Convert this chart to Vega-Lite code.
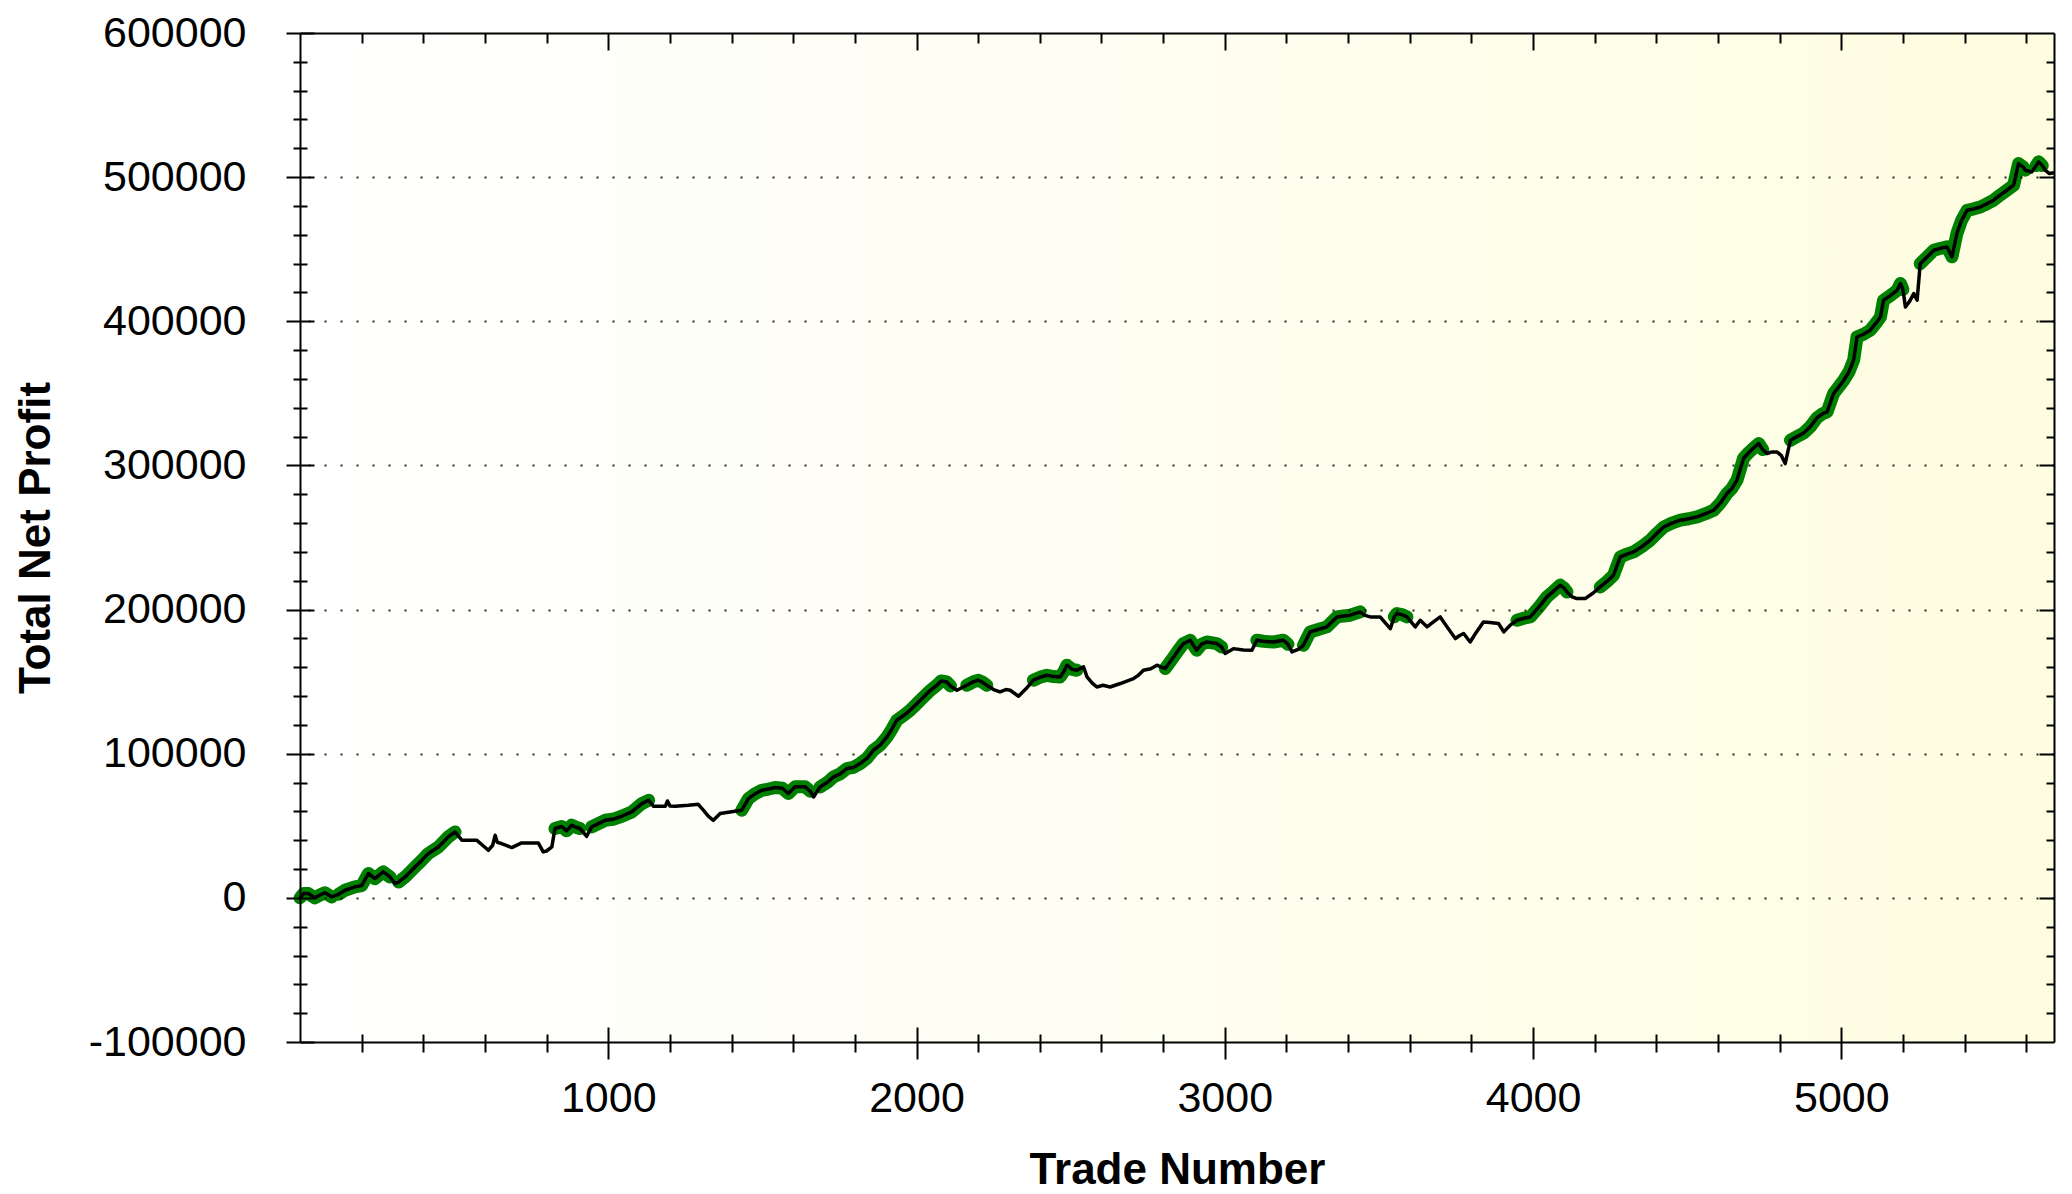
{
  "$schema": "https://vega.github.io/schema/vega-lite/v6.json",
  "width": 1754,
  "height": 1009,
  "autosize": "none",
  "padding": {"left": 300, "top": 33, "right": 18, "bottom": 152},
  "background": "#ffffff",
  "config": {
    "view": {"stroke": null},
    "font": "Liberation Sans",
    "axis": {"tickColor": "#000000", "tickWidth": 2, "domainColor": "#000000", "domainWidth": 2, "grid": false, "title": null, "labelColor": "#000000", "titleColor": "#000000", "labelFont": "Liberation Sans", "titleFont": "Liberation Sans"}
  },
  "data": {
    "values": [
      {"trade": 0, "profit": 0, "seg": 1}, {"trade": 12, "profit": 3000, "seg": 1}, {"trade": 27, "profit": 3000, "seg": 1}, {"trade": 48, "profit": 0, "seg": 1}, {"trade": 65, "profit": 2000, "seg": 1}, {"trade": 81, "profit": 3500, "seg": 1}, {"trade": 103, "profit": 600, "seg": 1},
      {"trade": 125, "profit": 2500, "seg": 2}, {"trade": 146, "profit": 5300, "seg": 2}, {"trade": 178, "profit": 7600, "seg": 2}, {"trade": 200, "profit": 8500, "seg": 2}, {"trade": 222, "profit": 16900, "seg": 2}, {"trade": 243, "profit": 13400, "seg": 2}, {"trade": 270, "profit": 18000, "seg": 2}, {"trade": 292, "profit": 14500, "seg": 2},
      {"trade": 308, "profit": 9900, "seg": 0},
      {"trade": 320, "profit": 11000, "seg": 3}, {"trade": 341, "profit": 14500, "seg": 3}, {"trade": 373, "profit": 21400, "seg": 3}, {"trade": 395, "profit": 26000, "seg": 3}, {"trade": 416, "profit": 30700, "seg": 3}, {"trade": 449, "profit": 35300, "seg": 3}, {"trade": 481, "profit": 42300, "seg": 3}, {"trade": 503, "profit": 45700, "seg": 3},
      {"trade": 525, "profit": 40000, "seg": 0}, {"trade": 573, "profit": 40000, "seg": 0}, {"trade": 595, "profit": 36000, "seg": 0}, {"trade": 611, "profit": 33000, "seg": 0}, {"trade": 625, "profit": 36500, "seg": 0}, {"trade": 633, "profit": 43400, "seg": 0}, {"trade": 640, "profit": 38500, "seg": 0}, {"trade": 654, "profit": 37700, "seg": 0}, {"trade": 687, "profit": 34900, "seg": 0}, {"trade": 719, "profit": 38100, "seg": 0}, {"trade": 773, "profit": 38100, "seg": 0}, {"trade": 789, "profit": 31900, "seg": 0}, {"trade": 800, "profit": 32500, "seg": 0}, {"trade": 817, "profit": 35300, "seg": 0},
      {"trade": 827, "profit": 48100, "seg": 4}, {"trade": 849, "profit": 49500, "seg": 4}, {"trade": 865, "profit": 46500, "seg": 4}, {"trade": 881, "profit": 50400, "seg": 4}, {"trade": 895, "profit": 49000, "seg": 4}, {"trade": 908, "profit": 48100, "seg": 4},
      {"trade": 930, "profit": 42700, "seg": 0},
      {"trade": 946, "profit": 49200, "seg": 5}, {"trade": 968, "profit": 51500, "seg": 5}, {"trade": 990, "profit": 53800, "seg": 5}, {"trade": 1015, "profit": 54500, "seg": 5}, {"trade": 1044, "profit": 56600, "seg": 5}, {"trade": 1076, "profit": 59600, "seg": 5}, {"trade": 1109, "profit": 65400, "seg": 5}, {"trade": 1131, "profit": 67700, "seg": 5},
      {"trade": 1147, "profit": 63500, "seg": 0}, {"trade": 1185, "profit": 63500, "seg": 0}, {"trade": 1192, "profit": 67200, "seg": 0}, {"trade": 1200, "profit": 63800, "seg": 0}, {"trade": 1217, "profit": 63500, "seg": 0}, {"trade": 1260, "profit": 64200, "seg": 0}, {"trade": 1292, "profit": 64900, "seg": 0}, {"trade": 1310, "profit": 60500, "seg": 0}, {"trade": 1325, "profit": 56600, "seg": 0}, {"trade": 1341, "profit": 53800, "seg": 0}, {"trade": 1363, "profit": 58500, "seg": 0}, {"trade": 1400, "profit": 59800, "seg": 0},
      {"trade": 1433, "profit": 60800, "seg": 6}, {"trade": 1455, "profit": 68900, "seg": 6}, {"trade": 1475, "profit": 72000, "seg": 6}, {"trade": 1498, "profit": 74600, "seg": 6}, {"trade": 1520, "profit": 75500, "seg": 6}, {"trade": 1541, "profit": 76500, "seg": 6}, {"trade": 1565, "profit": 76000, "seg": 6}, {"trade": 1584, "profit": 72400, "seg": 6}, {"trade": 1606, "profit": 77000, "seg": 6}, {"trade": 1639, "profit": 77000, "seg": 6}, {"trade": 1655, "profit": 74000, "seg": 6},
      {"trade": 1666, "profit": 70000, "seg": 0},
      {"trade": 1687, "profit": 76900, "seg": 7}, {"trade": 1710, "profit": 80000, "seg": 7}, {"trade": 1731, "profit": 83900, "seg": 7}, {"trade": 1752, "profit": 86000, "seg": 7}, {"trade": 1774, "profit": 89700, "seg": 7}, {"trade": 1795, "profit": 90500, "seg": 7}, {"trade": 1817, "profit": 93200, "seg": 7}, {"trade": 1840, "profit": 97000, "seg": 7}, {"trade": 1860, "profit": 102400, "seg": 7}, {"trade": 1882, "profit": 106000, "seg": 7}, {"trade": 1904, "profit": 111600, "seg": 7}, {"trade": 1920, "profit": 117000, "seg": 7}, {"trade": 1936, "profit": 123200, "seg": 7}, {"trade": 1958, "profit": 126500, "seg": 7}, {"trade": 1979, "profit": 130100, "seg": 7}, {"trade": 2000, "profit": 134500, "seg": 7}, {"trade": 2023, "profit": 139400, "seg": 7}, {"trade": 2045, "profit": 144000, "seg": 7}, {"trade": 2066, "profit": 147500, "seg": 7}, {"trade": 2080, "profit": 150500, "seg": 7}, {"trade": 2098, "profit": 149800, "seg": 7}, {"trade": 2110, "profit": 147000, "seg": 7},
      {"trade": 2131, "profit": 144000, "seg": 0},
      {"trade": 2163, "profit": 147500, "seg": 8}, {"trade": 2185, "profit": 150000, "seg": 8}, {"trade": 2201, "profit": 151000, "seg": 8}, {"trade": 2215, "profit": 149500, "seg": 8}, {"trade": 2228, "profit": 147500, "seg": 8},
      {"trade": 2250, "profit": 144500, "seg": 0}, {"trade": 2271, "profit": 142900, "seg": 0}, {"trade": 2290, "profit": 144500, "seg": 0}, {"trade": 2304, "profit": 144000, "seg": 0}, {"trade": 2331, "profit": 139900, "seg": 0}, {"trade": 2355, "profit": 145000, "seg": 0},
      {"trade": 2379, "profit": 151000, "seg": 9}, {"trade": 2400, "profit": 153000, "seg": 9}, {"trade": 2423, "profit": 154400, "seg": 9}, {"trade": 2445, "profit": 153500, "seg": 9}, {"trade": 2466, "profit": 153300, "seg": 9}, {"trade": 2478, "profit": 157000, "seg": 9}, {"trade": 2488, "profit": 161400, "seg": 9}, {"trade": 2505, "profit": 158500, "seg": 9}, {"trade": 2520, "profit": 157900, "seg": 9},
      {"trade": 2542, "profit": 160200, "seg": 0}, {"trade": 2553, "profit": 153300, "seg": 0}, {"trade": 2570, "profit": 149000, "seg": 0}, {"trade": 2585, "profit": 146300, "seg": 0}, {"trade": 2605, "profit": 147500, "seg": 0}, {"trade": 2628, "profit": 146300, "seg": 0}, {"trade": 2661, "profit": 148700, "seg": 0}, {"trade": 2704, "profit": 152100, "seg": 0}, {"trade": 2720, "profit": 154500, "seg": 0}, {"trade": 2736, "profit": 157900, "seg": 0}, {"trade": 2760, "profit": 159000, "seg": 0}, {"trade": 2780, "profit": 161400, "seg": 0}, {"trade": 2795, "profit": 160000, "seg": 0},
      {"trade": 2807, "profit": 159100, "seg": 10}, {"trade": 2820, "profit": 163000, "seg": 10}, {"trade": 2834, "profit": 167100, "seg": 10}, {"trade": 2850, "profit": 172000, "seg": 10}, {"trade": 2866, "profit": 176400, "seg": 10}, {"trade": 2888, "profit": 178700, "seg": 10}, {"trade": 2909, "profit": 171800, "seg": 10}, {"trade": 2925, "profit": 176000, "seg": 10}, {"trade": 2942, "profit": 177500, "seg": 10}, {"trade": 2974, "profit": 176400, "seg": 10}, {"trade": 2990, "profit": 174000, "seg": 10},
      {"trade": 3001, "profit": 169500, "seg": 0}, {"trade": 3028, "profit": 172900, "seg": 0}, {"trade": 3060, "profit": 172000, "seg": 0}, {"trade": 3088, "profit": 171800, "seg": 0},
      {"trade": 3104, "profit": 178700, "seg": 11}, {"trade": 3125, "profit": 178000, "seg": 11}, {"trade": 3158, "profit": 177500, "seg": 11}, {"trade": 3190, "profit": 178700, "seg": 11}, {"trade": 3205, "profit": 176000, "seg": 11},
      {"trade": 3218, "profit": 170600, "seg": 0}, {"trade": 3240, "profit": 172500, "seg": 0},
      {"trade": 3255, "profit": 175200, "seg": 12}, {"trade": 3277, "profit": 184500, "seg": 12}, {"trade": 3300, "profit": 186000, "seg": 12}, {"trade": 3331, "profit": 188000, "seg": 12}, {"trade": 3364, "profit": 194900, "seg": 12}, {"trade": 3385, "profit": 195500, "seg": 12}, {"trade": 3407, "profit": 196100, "seg": 12}, {"trade": 3439, "profit": 198400, "seg": 12},
      {"trade": 3455, "profit": 196000, "seg": 0}, {"trade": 3472, "profit": 194900, "seg": 0}, {"trade": 3504, "profit": 194900, "seg": 0}, {"trade": 3520, "profit": 191000, "seg": 0}, {"trade": 3537, "profit": 186800, "seg": 0},
      {"trade": 3550, "profit": 195000, "seg": 13}, {"trade": 3558, "profit": 197200, "seg": 13}, {"trade": 3575, "profit": 196500, "seg": 13}, {"trade": 3591, "profit": 194900, "seg": 13},
      {"trade": 3618, "profit": 188000, "seg": 0}, {"trade": 3634, "profit": 192600, "seg": 0}, {"trade": 3656, "profit": 188000, "seg": 0}, {"trade": 3680, "profit": 192000, "seg": 0}, {"trade": 3699, "profit": 194900, "seg": 0}, {"trade": 3721, "profit": 188000, "seg": 0}, {"trade": 3748, "profit": 179900, "seg": 0}, {"trade": 3762, "profit": 182000, "seg": 0}, {"trade": 3775, "profit": 183400, "seg": 0}, {"trade": 3796, "profit": 177500, "seg": 0}, {"trade": 3815, "profit": 184000, "seg": 0}, {"trade": 3839, "profit": 191400, "seg": 0}, {"trade": 3860, "profit": 191000, "seg": 0}, {"trade": 3888, "profit": 190300, "seg": 0}, {"trade": 3905, "profit": 184500, "seg": 0}, {"trade": 3925, "profit": 189000, "seg": 0},
      {"trade": 3948, "profit": 192600, "seg": 14}, {"trade": 3970, "profit": 194000, "seg": 14}, {"trade": 3991, "profit": 194900, "seg": 14}, {"trade": 4020, "profit": 202000, "seg": 14}, {"trade": 4045, "profit": 208800, "seg": 14}, {"trade": 4065, "profit": 212500, "seg": 14}, {"trade": 4088, "profit": 216900, "seg": 14}, {"trade": 4100, "profit": 215000, "seg": 14}, {"trade": 4110, "profit": 212200, "seg": 14},
      {"trade": 4125, "profit": 209000, "seg": 0}, {"trade": 4142, "profit": 207600, "seg": 0}, {"trade": 4169, "profit": 207600, "seg": 0}, {"trade": 4195, "profit": 211500, "seg": 0},
      {"trade": 4218, "profit": 215700, "seg": 15}, {"trade": 4240, "profit": 219500, "seg": 15}, {"trade": 4261, "profit": 223800, "seg": 15}, {"trade": 4283, "profit": 236500, "seg": 15}, {"trade": 4305, "profit": 238500, "seg": 15}, {"trade": 4326, "profit": 240000, "seg": 15}, {"trade": 4352, "profit": 243500, "seg": 15}, {"trade": 4380, "profit": 248100, "seg": 15}, {"trade": 4400, "profit": 252500, "seg": 15}, {"trade": 4424, "profit": 257300, "seg": 15}, {"trade": 4450, "profit": 260000, "seg": 15}, {"trade": 4478, "profit": 262000, "seg": 15}, {"trade": 4505, "profit": 263000, "seg": 15}, {"trade": 4532, "profit": 264300, "seg": 15}, {"trade": 4560, "profit": 266500, "seg": 15}, {"trade": 4586, "profit": 268900, "seg": 15}, {"trade": 4608, "profit": 274000, "seg": 15}, {"trade": 4629, "profit": 280500, "seg": 15}, {"trade": 4645, "profit": 284000, "seg": 15}, {"trade": 4662, "profit": 290000, "seg": 15}, {"trade": 4683, "profit": 305000, "seg": 15}, {"trade": 4700, "profit": 309000, "seg": 15}, {"trade": 4715, "profit": 312000, "seg": 15}, {"trade": 4732, "profit": 315200, "seg": 15}, {"trade": 4745, "profit": 311000, "seg": 15},
      {"trade": 4759, "profit": 308200, "seg": 0}, {"trade": 4775, "profit": 309400, "seg": 0}, {"trade": 4791, "profit": 309400, "seg": 0}, {"trade": 4805, "profit": 307000, "seg": 0}, {"trade": 4818, "profit": 301300, "seg": 0},
      {"trade": 4835, "profit": 317500, "seg": 16}, {"trade": 4856, "profit": 320000, "seg": 16}, {"trade": 4878, "profit": 322500, "seg": 16}, {"trade": 4900, "profit": 327000, "seg": 16}, {"trade": 4921, "profit": 333000, "seg": 16}, {"trade": 4940, "profit": 336000, "seg": 16}, {"trade": 4954, "profit": 337100, "seg": 16}, {"trade": 4975, "profit": 349900, "seg": 16}, {"trade": 4990, "profit": 354000, "seg": 16}, {"trade": 5008, "profit": 359100, "seg": 16}, {"trade": 5025, "profit": 365000, "seg": 16}, {"trade": 5040, "profit": 373000, "seg": 16}, {"trade": 5051, "profit": 389100, "seg": 16}, {"trade": 5072, "profit": 391000, "seg": 16}, {"trade": 5094, "profit": 393800, "seg": 16}, {"trade": 5110, "profit": 398000, "seg": 16}, {"trade": 5127, "profit": 403000, "seg": 16}, {"trade": 5137, "profit": 414600, "seg": 16}, {"trade": 5160, "profit": 418000, "seg": 16}, {"trade": 5181, "profit": 421500, "seg": 16}, {"trade": 5192, "profit": 426200, "seg": 16}, {"trade": 5200, "profit": 422000, "seg": 16},
      {"trade": 5208, "profit": 409900, "seg": 0}, {"trade": 5222, "profit": 414000, "seg": 0}, {"trade": 5235, "profit": 419200, "seg": 0}, {"trade": 5246, "profit": 414600, "seg": 0},
      {"trade": 5256, "profit": 440000, "seg": 17}, {"trade": 5280, "profit": 445000, "seg": 17}, {"trade": 5300, "profit": 449300, "seg": 17}, {"trade": 5320, "profit": 450500, "seg": 17}, {"trade": 5343, "profit": 451600, "seg": 17}, {"trade": 5359, "profit": 444700, "seg": 17}, {"trade": 5375, "profit": 460900, "seg": 17}, {"trade": 5390, "profit": 470000, "seg": 17}, {"trade": 5408, "profit": 477000, "seg": 17}, {"trade": 5430, "profit": 478000, "seg": 17}, {"trade": 5451, "profit": 479300, "seg": 17}, {"trade": 5472, "profit": 481500, "seg": 17}, {"trade": 5494, "profit": 484000, "seg": 17}, {"trade": 5515, "profit": 487500, "seg": 17}, {"trade": 5537, "profit": 490900, "seg": 17}, {"trade": 5559, "profit": 494400, "seg": 17}, {"trade": 5575, "profit": 509400, "seg": 17}, {"trade": 5590, "profit": 507000, "seg": 17}, {"trade": 5597, "profit": 504800, "seg": 17},
      {"trade": 5618, "profit": 503600, "seg": 0},
      {"trade": 5632, "profit": 508000, "seg": 18}, {"trade": 5640, "profit": 510600, "seg": 18}, {"trade": 5652, "profit": 508000, "seg": 18},
      {"trade": 5662, "profit": 504800, "seg": 0}, {"trade": 5675, "profit": 502500, "seg": 0}, {"trade": 5690, "profit": 503000, "seg": 0}
    ]
  },
  "layer": [
    {
      "data": {"values": [{"bg": 1}]},
      "mark": {"type": "rect", "fill": {"gradient": "linear", "x1": 0, "y1": 0, "x2": 1, "y2": 0, "stops": [{"offset": 0, "color": "#ffffff"}, {"offset": 0.5, "color": "#fefef1"}, {"offset": 1, "color": "#fefde0"}]}},
      "encoding": {
        "x": {"datum": 0, "type": "quantitative", "scale": {"domain": [0, 5690], "nice": false, "zero": false},
          "axis": {"orient": "bottom", "values": [1000, 2000, 3000, 4000, 5000], "offset": -15, "tickSize": 15, "domain": false, "labels": false, "title": null, "zindex": 2}},
        "x2": {"datum": 5690},
        "y": {"datum": -100000, "type": "quantitative", "scale": {"domain": [-100000, 600000], "nice": false, "zero": false},
          "axis": {"orient": "left", "values": [-100000, 0, 100000, 200000, 300000, 400000, 500000, 600000], "offset": -14, "tickSize": 14, "domain": false, "labels": false, "title": null, "zindex": 2}},
        "y2": {"datum": 600000}
      }
    },
    {
      "transform": [{"filter": "datum.seg > 0"}],
      "mark": {"type": "line", "color": "#008000", "strokeWidth": 13, "strokeCap": "round", "strokeJoin": "round"},
      "encoding": {
        "x": {"field": "trade", "type": "quantitative", "scale": {"domain": [0, 5690], "nice": false, "zero": false},
          "axis": {"orient": "bottom", "values": [1000, 2000, 3000, 4000, 5000], "tickSize": 17, "domain": true, "labels": true, "labelFontSize": 43, "labelPadding": 18, "labelFlush": false, "labelOverlap": false, "format": "d", "title": "Trade Number", "titleFontSize": 44, "titleFontWeight": "bold", "titlePadding": 28, "zindex": 2}},
        "y": {"field": "profit", "type": "quantitative", "scale": {"domain": [-100000, 600000], "nice": false, "zero": false},
          "axis": {"orient": "left", "values": [-100000, 0, 100000, 200000, 300000, 400000, 500000, 600000], "tickSize": 14, "domain": true, "labels": true, "labelFontSize": 43, "labelPadding": 40, "labelFlush": false, "labelOverlap": false, "labelExpr": "datum.value < 0 ? '-' + format(-datum.value, 'd') : format(datum.value, 'd')", "title": "Total Net Profit", "titleFontSize": 44, "titleFontWeight": "bold", "titlePadding": 42, "zindex": 2}},
        "detail": {"field": "seg", "type": "nominal"}
      }
    },
    {
      "mark": {"type": "line", "color": "#000000", "strokeWidth": 3.5, "strokeJoin": "round"},
      "encoding": {
        "x": {"field": "trade", "type": "quantitative", "scale": {"domain": [0, 5690], "nice": false, "zero": false},
          "axis": {"orient": "bottom", "values": [200, 400, 600, 800, 1200, 1400, 1600, 1800, 2200, 2400, 2600, 2800, 3200, 3400, 3600, 3800, 4200, 4400, 4600, 4800, 5200, 5400, 5600], "offset": -8, "tickSize": 18, "domain": false, "labels": false, "title": null, "zindex": 2}},
        "y": {"field": "profit", "type": "quantitative", "scale": {"domain": [-100000, 600000], "nice": false, "zero": false},
          "axis": {"orient": "left", "values": [-80000, -60000, -40000, -20000, 20000, 40000, 60000, 80000, 120000, 140000, 160000, 180000, 220000, 240000, 260000, 280000, 320000, 340000, 360000, 380000, 420000, 440000, 460000, 480000, 520000, 540000, 560000, 580000], "offset": -7, "tickSize": 14, "domain": false, "labels": false, "title": null, "zindex": 2}}
      }
    },
    {
      "mark": {"type": "point", "opacity": 0},
      "encoding": {
        "x": {"field": "trade", "type": "quantitative", "scale": {"domain": [0, 5690], "nice": false, "zero": false},
          "axis": {"orient": "top", "values": [1000, 2000, 3000, 4000, 5000], "offset": -17, "tickSize": 17, "domain": false, "labels": false, "title": null, "zindex": 2}},
        "y": {"field": "profit", "type": "quantitative", "scale": {"domain": [-100000, 600000], "nice": false, "zero": false},
          "axis": {"orient": "right", "values": [0, 100000, 200000, 300000, 400000, 500000], "offset": -15, "tickSize": 15, "domain": false, "labels": false, "title": null, "zindex": 2}}
      }
    },
    {
      "mark": {"type": "point", "opacity": 0},
      "encoding": {
        "x": {"field": "trade", "type": "quantitative", "scale": {"domain": [0, 5690], "nice": false, "zero": false},
          "axis": {"orient": "top", "values": [200, 400, 600, 800, 1200, 1400, 1600, 1800, 2200, 2400, 2600, 2800, 3200, 3400, 3600, 3800, 4200, 4400, 4600, 4800, 5200, 5400, 5600], "offset": -10, "tickSize": 10, "domain": false, "labels": false, "title": null, "zindex": 2}},
        "y": {"field": "profit", "type": "quantitative", "scale": {"domain": [-100000, 600000], "nice": false, "zero": false},
          "axis": {"orient": "right", "values": [-80000, -60000, -40000, -20000, 20000, 40000, 60000, 80000, 120000, 140000, 160000, 180000, 220000, 240000, 260000, 280000, 320000, 340000, 360000, 380000, 420000, 440000, 460000, 480000, 520000, 540000, 560000, 580000], "offset": -8, "tickSize": 8, "domain": false, "labels": false, "title": null, "zindex": 2}}
      }
    },
    {
      "mark": {"type": "point", "opacity": 0},
      "encoding": {
        "x": {"field": "trade", "type": "quantitative", "scale": {"domain": [0, 5690], "nice": false, "zero": false},
          "axis": {"orient": "top", "values": [1000], "ticks": false, "domain": true, "labels": false, "title": null, "zindex": 2}},
        "y": {"field": "profit", "type": "quantitative", "scale": {"domain": [-100000, 600000], "nice": false, "zero": false},
          "axis": {"orient": "right", "values": [0, 100000, 200000, 300000, 400000, 500000], "ticks": false, "domain": true, "labels": false, "title": null, "grid": true, "gridColor": "#000000", "gridWidth": 2, "gridDash": [2, 14], "gridOpacity": 0.85, "zindex": 1}}
      }
    }
  ],
  "resolve": {"axis": {"x": "independent", "y": "independent"}}
}
